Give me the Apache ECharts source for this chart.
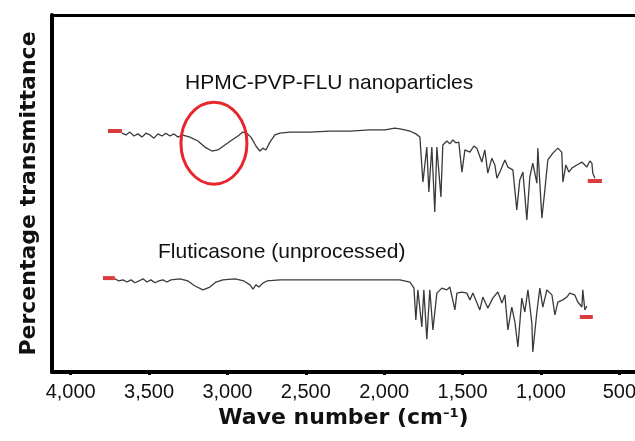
<!DOCTYPE html>
<html>
<head>
<meta charset="utf-8">
<script src="https://cdn.jsdelivr.net/npm/echarts@6/dist/echarts.min.js"></script>
<style>
html,body{margin:0;padding:0;background:#fff;}
#chart{width:635px;height:441px;}
</style>
</head>
<body>
<div id="chart"></div>
<script>
// Wave numbers (cm-1) and relative transmittance
const nanoWave = [3673,3647,3622,3596,3571,3545,3520,3494,3469,3443,3418,3392,3367,3341,3316,3290,
  3239,3188,3144,3099,3061,3016,2971,2933,2901,2876,2850,2818,2793,2774,2754,2729,2697,2665,2601,
  2474,2346,2219,2091,1995,1932,1900,1868,1836,1798,1772,
  1753,1728,1715,1696,1677,1664,1638,1626,1600,1581,1562,1543,1524,1504,1485,1453,1428,1409,1377,1358,
  1339,1313,1294,1281,1262,1230,1211,1179,1154,1135,1115,1090,1071,1052,1026,1020,994,975,956,924,892,
  867,860,841,822,803,771,739,707,688,675,669,656];
const nanoTrans = [66.9,66.4,67.2,66.1,66.7,65.8,66.9,66.4,65.5,66.7,66.1,66.9,66.1,66.7,65.8,66.4,
  65.8,64.7,63.0,61.9,62.2,63.6,65.0,66.1,67.2,66.9,65.8,63.3,61.9,62.7,62.2,64.4,66.4,66.9,67.2,
  67.2,67.5,67.5,67.8,67.8,68.3,68.1,67.8,67.5,66.7,65.8,
  53.2,63.0,50.4,63.0,44.8,63.0,49.0,63.6,64.7,63.9,65.0,64.2,64.4,56.0,62.2,61.6,63.3,62.7,58.8,62.2,
  55.7,59.9,58.0,54.3,56.0,59.4,57.4,56.6,45.4,53.8,56.0,42.6,54.6,58.5,52.9,62.7,43.1,51.0,59.4,61.3,62.7,
  61.6,53.2,58.0,56.0,57.1,58.0,58.8,57.4,59.1,58.5,55.7,54.3];

const fluWave = [3718,3692,3666,3641,3615,3590,3564,3539,3513,3488,3462,3437,3411,3386,3360,
  3303,3252,3207,3156,3112,3073,3029,2952,2895,2856,2837,2818,2799,2774,2748,2665,2538,2346,2155,1964,1900,1836,1810,
  1798,1785,1760,1747,1728,1709,1689,1664,1632,1600,1581,1549,1536,1504,1473,1453,1434,1390,1371,1339,1307,1275,
  1249,1230,1211,1186,1166,1147,1122,1103,1083,1058,1052,1026,1007,988,962,930,911,892,860,835,816,784,765,739,733,720,707];
const fluTrans = [26.1,25.5,25.8,25.2,25.8,25.0,25.5,26.1,25.2,25.8,25.0,25.5,25.8,25.2,25.8,
  26.1,25.5,24.1,23.0,23.8,25.2,25.8,26.1,25.5,24.4,23.2,24.4,23.8,24.9,25.5,25.8,25.8,25.8,25.8,25.8,25.8,25.2,23.5,
  14.6,23.0,12.6,23.0,9.2,23.0,11.8,22.1,23.5,23.0,23.8,17.4,22.1,22.4,22.1,20.2,22.1,17.4,21.0,17.9,20.7,22.4,
  19.3,21.6,11.8,18.2,14.0,7.0,20.7,16.8,23.0,13.7,5.6,16.8,23.5,18.2,23.0,21.6,16.0,19.6,20.2,21.0,22.1,21.6,19.6,18.2,23.0,17.4,18.5];

// Red end markers [startWave, endWave] and their transmittance level
const markerWave = [[3762,3673],[701,611],[3794,3718],[752,669]];
const markerTrans = [67.5,53.5,26.3,15.4];

const xTicks = [4000,3500,3000,2500,2000,1500,1000,500];
const labelNano = 'HPMC-PVP-FLU nanoparticles';
const labelFlu = 'Fluticasone (unprocessed)';
const circleCenter = [3086, 64.1];

const zip = (a,b) => a.map((v,i)=>[v,b[i]]);
const chart = echarts.init(document.getElementById('chart'), null, {renderer:'canvas'});

const markerSeries = markerWave.map((w,i)=>({
  type:'line', data:[[w[0],markerTrans[i]],[w[1],markerTrans[i]]], showSymbol:false,
  lineStyle:{color:'#dc3b3b', width:4}, z:3, silent:true
}));

const X_MIN = 400, X_MAX = 4119;

chart.setOption({
  animation:false,
  backgroundColor:'#fff',
  grid:{left:52, right:0, top:15, bottom:69, containLabel:false, outerBoundsMode:'none'},
  xAxis:[{
    type:'value', inverse:true, min:X_MIN, max:X_MAX,
    axisLine:{show:true, onZero:false, lineStyle:{color:'#000', width:4}},
    axisTick:{show:true, length:3, customValues:xTicks, lineStyle:{color:'#000', width:3}},
    axisLabel:{fontSize:20, color:'#111', fontFamily:'Liberation Sans, Arial', margin:10, customValues:xTicks,
      formatter:v=> v.toLocaleString('en-US')},
    splitLine:{show:false},
    name:'Wave number (cm{s|–1})', nameLocation:'middle', nameGap:34,
    nameTextStyle:{fontSize:22, fontWeight:'bold', color:'#111', fontFamily:'DejaVu Sans',
      rich:{s:{fontSize:13, fontWeight:'bold', fontFamily:'DejaVu Sans', color:'#111', verticalAlign:'top', padding:[0,0,8,0]}}}
  },{
    type:'value', position:'top', inverse:true, min:X_MIN, max:X_MAX,
    axisLine:{show:true, onZero:false, lineStyle:{color:'#000', width:3}},
    axisTick:{show:false}, axisLabel:{show:false}, splitLine:{show:false}
  }],
  yAxis:{
    type:'value', min:0, max:100,
    axisLine:{show:true, lineStyle:{color:'#000', width:4}},
    axisTick:{show:false}, axisLabel:{show:false}, splitLine:{show:false},
    name:'Percentage transmittance', nameLocation:'middle', nameGap:12,
    nameTextStyle:{fontSize:22, fontWeight:'bold', color:'#111', fontFamily:'DejaVu Sans'}
  },
  series:[
    {type:'line', name:labelNano, data:zip(nanoWave,nanoTrans), showSymbol:false, lineStyle:{color:'#3a3a3a', width:1.3}, z:2},
    {type:'line', name:labelFlu, data:zip(fluWave,fluTrans), showSymbol:false, lineStyle:{color:'#3a3a3a', width:1.3}, z:2},
    ...markerSeries
  ]
});

const c = chart.convertToPixel({gridIndex:0}, circleCenter);
chart.setOption({
  graphic:[
    {type:'text', left:185, top:73, style:{text:labelNano, fontSize:21, fontFamily:'Liberation Sans, Arial', fill:'#111'}},
    {type:'text', left:158, top:242, style:{text:labelFlu, fontSize:21, fontFamily:'Liberation Sans, Arial', fill:'#111'}},
    {type:'ellipse', shape:{cx:c[0], cy:c[1], rx:33, ry:41}, style:{fill:'none', stroke:'#e8262c', lineWidth:3}, z:10}
  ]
});
</script>
</body>
</html>
